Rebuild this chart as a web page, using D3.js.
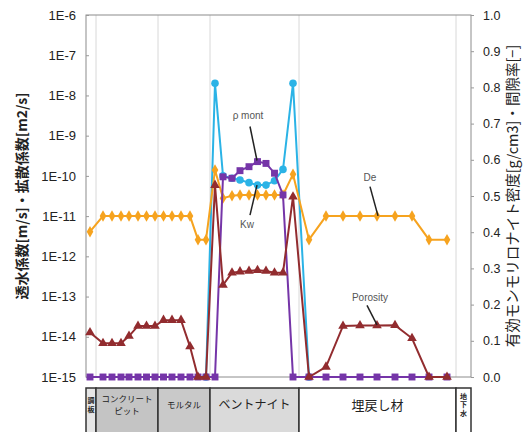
<!DOCTYPE html>
<html>
<head>
<meta charset="utf-8">
<script src="https://cdn.jsdelivr.net/npm/d3@7"></script>
<style>
body { margin: 0; background: #fff; }
text { font-family: "Liberation Sans", Arial, sans-serif; }
.jp { font-family: "Noto Sans CJK JP", sans-serif; }
</style>
</head>
<body>
<svg id="svg1" width="529" height="432"></svg>
<script>
// measuring positions along the section (arbitrary length unit)
var positions = [4, 17, 26, 35, 43, 52, 60.5, 69, 77.5, 86, 95, 104, 112, 120, 129,
    137, 146, 154, 163, 171.5, 180, 188.5, 197, 207,
    223, 240, 257, 274, 291, 309, 326, 343, 361];

// left axis (log)
var kw = [null, null, null, null, null, null, null, null, null, null, null, null, null, 1e-15, 2.0e-8,
    1.0e-10, 8.7e-11, 7.9e-11, 6.8e-11, 5.9e-11, 5.9e-11, 7.6e-11, 1.45e-10, 2.0e-8,
    1e-15, null, null, null, null, null, null, null, null];
var de = [4.1e-12, 1e-11, 1e-11, 1e-11, 1e-11, 1e-11, 1e-11, 1e-11, 1e-11, 1e-11, 1e-11, 1e-11, 2.6e-12, 2.6e-12, 1.4e-10,
    2.8e-11, 3.2e-11, 3.35e-11, 3.35e-11, 3.35e-11, 3.35e-11, 3.35e-11, 3.35e-11, 1.1e-10,
    2.6e-12, 1e-11, 1e-11, 1e-11, 1e-11, 1e-11, 1e-11, 2.6e-12, 2.6e-12];

// right axis (linear)
var rhoMont = [0, 0, 0, 0, 0, 0, 0, 0, 0, 0, 0, 0, 0, 0, 0,
    0.553, 0.549, 0.570, 0.581, 0.595, 0.590, 0.563, 0.503, 0,
    0, 0, 0, 0, 0, 0, 0, 0, 0];
var porosity = [0.123, 0.093, 0.093, 0.093, 0.113, 0.141, 0.141, 0.141, 0.157, 0.157, 0.157, 0.084, 0, 0, 0.530,
    0.254, 0.288, 0.291, 0.293, 0.295, 0.293, 0.288, 0.288, 0.498,
    0, 0.028, 0.141, 0.142, 0.142, 0.143, 0.107, 0, 0];

var leftTicks = [1e-6, 1e-7, 1e-8, 1e-9, 1e-10, 1e-11, 1e-12, 1e-13, 1e-14, 1e-15];
var leftTickLabels = ["1E-6", "1E-7", "1E-8", "1E-9", "1E-10", "1E-11", "1E-12", "1E-13", "1E-14", "1E-15"];
var rightTicks = [0, 0.1, 0.2, 0.3, 0.4, 0.5, 0.6, 0.7, 0.8, 0.9, 1.0];

var zoneNames = [["調", "板"], ["コンクリート", "ピット"], ["モルタル"], ["ベントナイト"], ["埋戻し材"], ["地", "下", "水"]];
var zoneEdges = [0, 10, 72, 124, 213, 370, 385];
var zoneFills = ["#e6e6e6", "#c4c4c4", "#c9c9c9", "#dadada", "#ffffff", "#ffffff"];

var notes = [
    {label: "ρ mont", tx: 162, ty: 0.713, x1: 164, y1: 0.692, x2: 171, y2: 0.598},
    {label: "Kw", tx: 161, ty: 0.412, x1: 164, y1: 0.447, x2: 171, y2: 0.530},
    {label: "De", tx: 284, ty: 0.541, x1: 284, y1: 0.526, x2: 292, y2: 0.445},
    {label: "Porosity", tx: 284, ty: 0.210, x1: 281, y1: 0.198, x2: 291, y2: 0.144}
];

var svg = d3.select("#svg1"),
    margin = {top: 15, right: 58, bottom: 55, left: 86},
    width = +svg.attr("width") - margin.left - margin.right,
    height = +svg.attr("height") - margin.top - margin.bottom,
    g = svg.append("g").attr("transform", "translate(" + margin.left + "," + margin.top + ")");

var x = d3.scaleLinear().domain([0, 385]).range([0, width]);
var yL = d3.scaleLog().domain([1e-15, 1e-6]).range([height, 0]);
var yR = d3.scaleLinear().domain([0, 1]).range([height, 0]);

// zone gridlines
g.selectAll(".zline")
    .data(zoneEdges.slice(1, -1))
    .enter().append("line")
    .attr("x1", function (d) { return x(d); })
    .attr("x2", function (d) { return x(d); })
    .attr("y1", 0).attr("y2", height)
    .attr("stroke", "#d8d8d8").attr("stroke-width", 1);

g.append("rect")
    .attr("width", width).attr("height", height)
    .attr("fill", "none").attr("stroke", "#8c8c8c").attr("stroke-width", 1);

// axes
var axL = g.append("g")
    .call(d3.axisLeft(yL).tickValues(leftTicks).tickSize(3)
        .tickFormat(function (d, i) { return leftTickLabels[i]; }));
axL.select(".domain").remove();
axL.selectAll("line").attr("stroke", "#999").attr("x2", 3);
axL.selectAll("text").attr("x", -10).style("font-size", "13px").attr("fill", "#222");

var axR = g.append("g")
    .attr("transform", "translate(" + width + ",0)")
    .call(d3.axisRight(yR).tickValues(rightTicks).tickSize(3).tickFormat(d3.format(".1f")));
axR.select(".domain").remove();
axR.selectAll("line").attr("stroke", "#999");
axR.selectAll("text").attr("x", 12).style("font-size", "12.5px").attr("fill", "#222");

// axis titles
svg.append("text")
    .attr("class", "jp")
    .attr("transform", "translate(22," + (margin.top + height / 2) + ") rotate(-90)")
    .attr("text-anchor", "middle")
    .attr("dy", "0.35em")
    .style("font-size", "14px")
    .style("font-weight", "bold")
    .attr("fill", "#222")
    .text("透水係数[m/s]・拡散係数[m2/s]");

svg.append("text")
    .attr("class", "jp")
    .attr("transform", "translate(513,196) rotate(-90)")
    .attr("text-anchor", "middle")
    .attr("dy", "0.35em")
    .style("font-size", "14.5px")
    .attr("fill", "#222")
    .text("有効モンモリロナイト密度[g/cm3]・間隙率[−]");

// series
function drawSeries(values, yScale, color, shape, size) {
    var pts = positions.map(function (p, i) { return {p: p, v: values[i]}; })
        .filter(function (d) { return d.v !== null; });
    var line = d3.line()
        .x(function (d) { return x(d.p); })
        .y(function (d) { return yScale(d.v); });
    g.append("path")
        .datum(pts)
        .attr("fill", "none")
        .attr("stroke", color)
        .attr("stroke-width", 2)
        .attr("d", line);
    g.selectAll(null)
        .data(pts)
        .enter().append("path")
        .attr("transform", function (d) { return "translate(" + x(d.p) + "," + yScale(d.v) + ")"; })
        .attr("d", d3.symbol().type(shape).size(size))
        .attr("fill", color);
}

drawSeries(kw, yL, "#2bb3e6", d3.symbolCircle, 45);
drawSeries(de, yL, "#f6a31f", d3.symbolDiamond, 38);
drawSeries(rhoMont, yR, "#7535a8", d3.symbolSquare, 48);
drawSeries(porosity, yR, "#922c2f", d3.symbolTriangle, 40);

// annotations
notes.forEach(function (n) {
    g.append("line")
        .attr("x1", x(n.x1)).attr("y1", yR(n.y1))
        .attr("x2", x(n.x2)).attr("y2", yR(n.y2))
        .attr("stroke", "#222").attr("stroke-width", 1.5);
    g.append("text")
        .attr("x", x(n.tx)).attr("y", yR(n.ty))
        .attr("text-anchor", "middle")
        .style("font-size", "10px")
        .attr("fill", "#555")
        .text(n.label);
});

// zone strip under the plot
var strip = svg.append("g").attr("transform", "translate(" + margin.left + "," + (margin.top + height + 11) + ")");
var stripH = 50;
zoneNames.forEach(function (name, i) {
    var x0 = x(zoneEdges[i]), x1 = x(zoneEdges[i + 1]);
    strip.append("rect")
        .attr("x", x0).attr("y", 0)
        .attr("width", x1 - x0).attr("height", stripH)
        .attr("fill", zoneFills[i])
        .attr("stroke", "#333").attr("stroke-width", 1.5);
    var cx = (x0 + x1) / 2;
    var tiny = (x1 - x0) < 20;
    var fs = tiny ? 7 : (i < 3 ? 8.5 : (i === 3 ? 12 : 13));
    var lh = tiny ? fs * 1.25 : fs * 1.4;
    var top = 17 - (name.length - 1) * lh / 2;
    name.forEach(function (s, j) {
        strip.append("text")
            .attr("class", "jp")
            .attr("x", cx).attr("y", top + j * lh)
            .attr("text-anchor", "middle")
            .attr("dy", "0.35em")
            .style("font-size", fs + "px")
            .style("font-weight", tiny ? "bold" : "normal")
            .attr("fill", "#222")
            .text(s);
    });
});
</script>
</body>
</html>
